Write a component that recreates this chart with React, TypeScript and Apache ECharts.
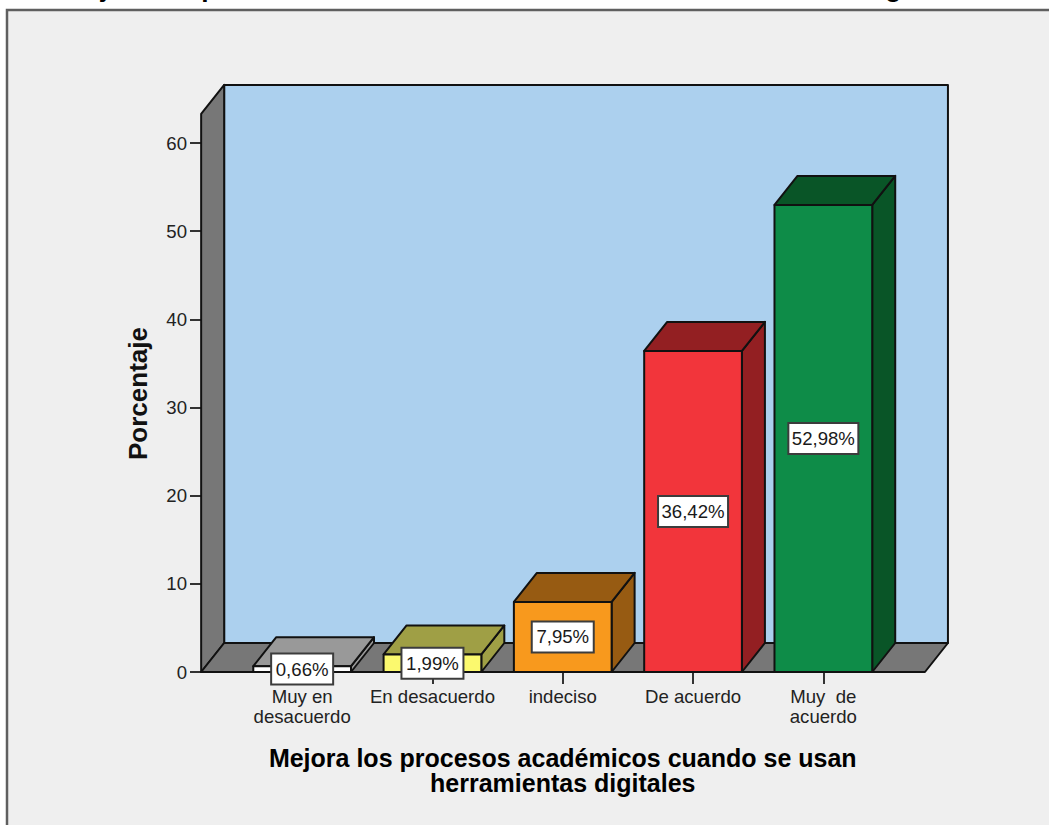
import React, { useEffect, useRef } from "react";
import * as echarts from "echarts";

const categories = ["Muy en\ndesacuerdo", "En desacuerdo", "indeciso", "De acuerdo", "Muy  de\nacuerdo"];
const values = [0.66, 1.99, 7.95, 36.42, 52.98];
const valueLabels = ["0,66%", "1,99%", "7,95%", "36,42%", "52,98%"];
const frontColors = ["#ffffff", "#fbf96e", "#f8991d", "#f2353b", "#0e8c48"];
const darkColors = ["#999999", "#9f9f45", "#975b12", "#931f22", "#095527"];
const yTicks = [0, 10, 20, 30, 40, 50, 60];
const xTitle = "Mejora los procesos académicos cuando se usan\nherramientas digitales";
const yTitle = "Porcentaje";
const clippedTitle = "Mejora los procesos académicos cuando se usan herramientas digitales";

const FONT = '"Liberation Sans", Arial, sans-serif';
const DEPTH_X = 23;
const DEPTH_Y = 29;
const INK = "#111111";

export default function App() {
  const ref = useRef<HTMLDivElement>(null);
  useEffect(() => {
    const chart = echarts.init(ref.current!, undefined, { renderer: "svg" });
    const line = { stroke: INK, lineWidth: 2, lineJoin: "round" };
    const renderWalls = (_: any, api: any) => {
      const [x0, y0] = api.coord([0, 0]);
      const [x4] = api.coord([4, 0]);
      const [, yTop] = api.coord([0, 63.3]);
      const l = x0 - 101;
      const r = x4 + 101.6;
      return {
        type: "group",
        children: [
          { type: "polygon", shape: { points: [[l + DEPTH_X, yTop - DEPTH_Y], [r + DEPTH_X, yTop - DEPTH_Y], [r + DEPTH_X, y0 - DEPTH_Y], [l + DEPTH_X, y0 - DEPTH_Y]] }, style: { fill: "#acd0ee", ...line } },
          { type: "polygon", shape: { points: [[l, y0], [l, yTop], [l + DEPTH_X, yTop - DEPTH_Y], [l + DEPTH_X, y0 - DEPTH_Y]] }, style: { fill: "#777777", ...line } },
          { type: "polygon", shape: { points: [[l, y0], [r, y0], [r + DEPTH_X, y0 - DEPTH_Y], [l + DEPTH_X, y0 - DEPTH_Y]] }, style: { fill: "#777777", ...line } },
        ],
      };
    };
    const renderBar = (params: any, api: any) => {
      const i = params.dataIndex;
      const [cx, yBase] = api.coord([api.value(0), 0]);
      const [, yVal] = api.coord([api.value(0), api.value(1)]);
      const w = api.size([1, 0])[0] * 0.75;
      const l = cx - w / 2;
      const r = cx + w / 2;
      const mid = (yBase + yVal) / 2;
      const boxW = valueLabels[i].length > 5 ? 70 : 62;
      return {
        type: "group",
        children: [
          { type: "polygon", shape: { points: [[r, yVal], [r + DEPTH_X, yVal - DEPTH_Y], [r + DEPTH_X, yBase - DEPTH_Y], [r, yBase]] }, style: { fill: darkColors[i], ...line } },
          { type: "polygon", shape: { points: [[l, yVal], [r, yVal], [r + DEPTH_X, yVal - DEPTH_Y], [l + DEPTH_X, yVal - DEPTH_Y]] }, style: { fill: darkColors[i], ...line } },
          { type: "rect", shape: { x: l, y: yVal, width: w, height: yBase - yVal }, style: { fill: frontColors[i], ...line } },
          { type: "rect", shape: { x: cx - boxW / 2, y: mid - 15.5, width: boxW, height: 31 }, style: { fill: "#ffffff", stroke: "#3c3c3c", lineWidth: 2 } },
          { type: "text", style: { text: valueLabels[i], x: cx, y: mid, align: "center", verticalAlign: "middle", fill: "#1a1a1a", fontSize: 18.6, fontFamily: FONT } },
        ],
      };
    };
    chart.setOption({
      animation: false,
      backgroundColor: "#ffffff",
      textStyle: { fontFamily: FONT },
      grid: { left: 237, top: 143, width: 651.5, height: 529, containLabel: false },
      graphic: [
        { type: "rect", z: -10, silent: true, shape: { x: 7, y: 10, width: 1060, height: 830 }, style: { fill: "#efefef", stroke: "#5f5f5f", lineWidth: 2.5 } },
        { type: "text", z: 5, silent: true, x: 64, y: 1, style: { text: clippedTitle, align: "left", verticalAlign: "bottom", fill: "#000000", fontSize: 26.3, fontWeight: "bold", fontFamily: FONT } },
        { type: "text", z: 5, silent: true, x: 138, y: 393.5, rotation: Math.PI / 2, style: { text: yTitle, align: "center", verticalAlign: "middle", fill: "#111111", fontSize: 26, fontWeight: "bold", fontFamily: FONT } },
      ],
      xAxis: {
        type: "category",
        data: categories,
        boundaryGap: true,
        axisLine: { show: false },
        axisTick: { show: true, alignWithLabel: true, length: 12, lineStyle: { color: "#333333", width: 2 } },
        axisLabel: { interval: 0, margin: 14, fontSize: 18.6, lineHeight: 20, color: "#222222", fontFamily: FONT },
        name: xTitle,
        nameLocation: "middle",
        nameGap: 73,
        nameTextStyle: { fontSize: 25, fontWeight: "bold", lineHeight: 25.5, color: "#000000", fontFamily: FONT },
      },
      yAxis: {
        type: "value",
        min: 0,
        max: 60,
        interval: 10,
        offset: 36,
        splitLine: { show: false },
        axisLine: { show: false },
        axisTick: { show: true, length: 11, lineStyle: { color: "#333333", width: 2 } },
        axisLabel: { margin: 14, fontSize: 18.6, color: "#222222", fontFamily: FONT, customValues: yTicks, padding: [5, 0, 0, 0] },
      },
      series: [
        { type: "custom", z: 1, clip: false, silent: true, renderItem: renderWalls, data: [[0, 0]], encode: { x: 0, y: 1 } },
        { type: "custom", z: 3, clip: false, silent: true, renderItem: renderBar, data: values.map((v, i) => [i, v]), encode: { x: 0, y: 1 } },
      ],
    });
    return () => chart.dispose();
  }, []);
  return <div ref={ref} style={{ position: "absolute", left: 0, top: 0, width: 1049, height: 825 }} />;
}
